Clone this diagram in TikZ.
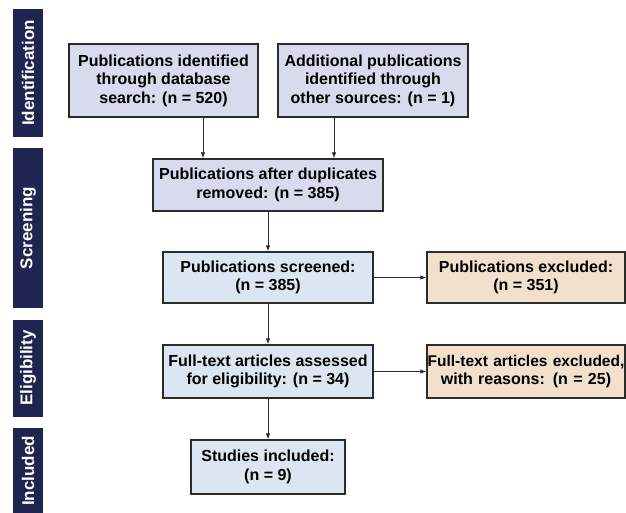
\documentclass[tikz,border=0pt]{standalone}
\usepackage{fontspec}
\setmainfont{Liberation Sans}
\usetikzlibrary{arrows.meta}
\definecolor{lav}{HTML}{D8DAEE}
\definecolor{lblue}{HTML}{DCE6F2}
\definecolor{beige}{HTML}{F2DFCC}
\definecolor{navy}{HTML}{1F2550}
\definecolor{edge}{HTML}{2B2B2B}
\begin{document}
\begin{tikzpicture}[x=1pt,y=-1pt,
  box/.style={draw=edge,line width=1.3pt,align=center,inner sep=2pt,
    font=\fontsize{16}{18.5}\selectfont\bfseries,text=black},
  lavbox/.style={box,fill=lav},
  bluebox/.style={box,fill=lblue},
  begebox/.style={box,fill=beige},
  side/.style={fill=navy,draw=none},
  sidetext/.style={text=white,rotate=90,font=\fontsize{17}{20}\selectfont\bfseries},
  arr/.style={draw=edge,line width=0.8pt,-{Latex[length=6pt,width=4.5pt]}}]
\useasboundingbox (0,0) rectangle (626,513);
% sidebars
\fill[side] (13,9) rectangle (43,137);
\fill[side] (13,148) rectangle (43,308);
\fill[side] (13,320) rectangle (43,417);
\fill[side] (13,428) rectangle (43,513);
\node[sidetext] (s1) at (28,73) {Identification};
\node[sidetext] (s2) at (28,228) {Screening};
\node[sidetext] (s3) at (28,368) {Eligibility};
\node[sidetext] (s4) at (28,471) {Included};
% boxes
\node[lavbox,minimum width=189pt,minimum height=73pt] (b1) at (163.5,80.5)
  {Publications identified\\through database\\search: (n = 520)};
\node[lavbox,minimum width=190pt,minimum height=73pt] (b2) at (373,80.5)
  {Additional publications\\identified through\\other sources: (n = 1)};
\node[lavbox,minimum width=230pt,minimum height=52pt] (b3) at (268,185)
  {Publications after duplicates\\removed: (n = 385)};
\node[bluebox,minimum width=210pt,minimum height=51pt] (b4) at (268,277.5)
  {Publications screened:\\(n = 385)};
\node[begebox,minimum width=198pt,minimum height=51pt] (b5) at (526,277.5)
  {Publications excluded:\\(n = 351)};
\node[bluebox,minimum width=210pt,minimum height=53pt] (b6) at (268,371.5)
  {Full-text articles assessed\\for eligibility: (n = 34)};
\node[begebox,text width=194pt,minimum height=53pt] (b7) at (526,371.5)
  {\makebox[194pt][c]{\fontsize{15.5}{18.5}\selectfont Full-text articles excluded,}\\with reasons: (n = 25)};
\node[bluebox,minimum width=154pt,minimum height=54pt] (b8) at (268,467)
  {Studies included:\\(n = 9)};
% arrows
\coordinate (c1) at (203,0);
\coordinate (c2) at (334,0);
\draw[arr] (b1.south -| c1) -- (b3.north -| c1);
\draw[arr] (b2.south -| c2) -- (b3.north -| c2);
\draw[arr] (b3) -- (b4);
\draw[arr] (b4) -- (b6);
\draw[arr] (b6) -- (b8);
\draw[arr] (b4) -- (b5);
\draw[arr] (b6) -- (b7);
\end{tikzpicture}
\end{document}
